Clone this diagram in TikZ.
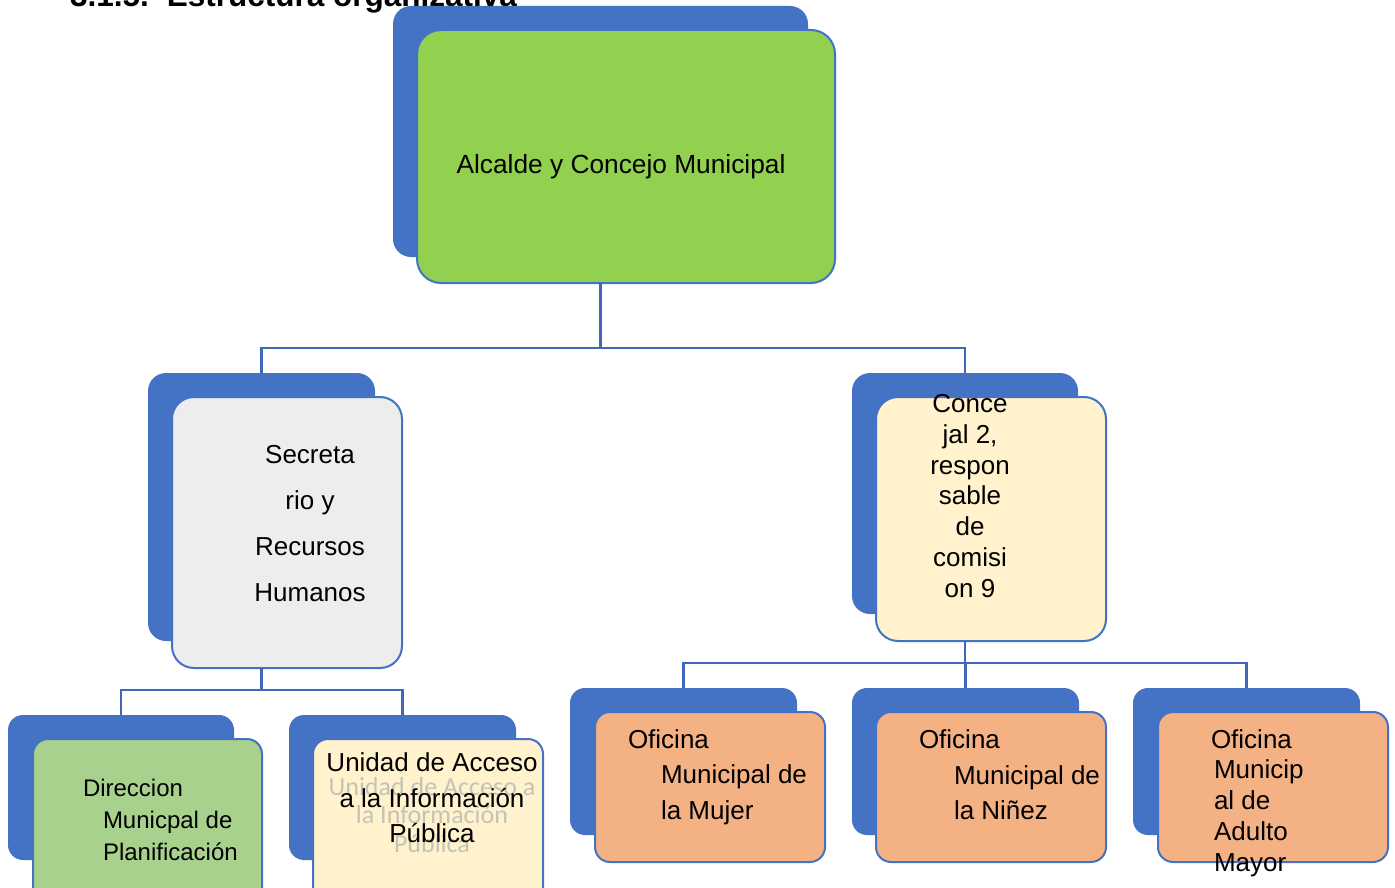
\documentclass[tikz,border=0pt]{standalone}
\usepackage{fontspec}
\setmainfont{Liberation Sans}
\newfontfamily\ghostfont{Carlito}
\definecolor{bblue}{HTML}{4472C4}
\definecolor{lblue}{HTML}{4068B8}
\definecolor{cgreen}{HTML}{92D050}
\definecolor{cgray}{HTML}{EDEDED}
\definecolor{ccream}{HTML}{FFF2CC}
\definecolor{clgreen}{HTML}{A9D18E}
\definecolor{corange}{HTML}{F4B183}
\begin{document}
\begin{tikzpicture}[x=1pt,y=-1pt,
  backbox/.style={fill=bblue, rounded corners=18pt, anchor=north west, inner sep=0pt, outer sep=0pt},
  frontbox/.style={draw=bblue, line width=2pt, rounded corners=18pt, anchor=north west, inner sep=0pt, outer sep=0pt},
  conn/.style={draw=lblue, line width=2.4pt},
  lbl/.style={inner sep=0pt, outer sep=0pt, text=black}]
\useasboundingbox (0,0) rectangle (1395,888);
\fill[white] (0,0) rectangle (1395,888);

% title
\node[lbl, anchor=base west, font=\fontsize{31.5}{31.5}\selectfont\bfseries] (title) at (70,7) {3.1.5.\hspace{18pt}Estructura organizativa};

% top
\node[backbox, minimum width=415pt, minimum height=251pt] (topB) at (393,6) {};
\node[frontbox, fill=cgreen, minimum width=418pt, minimum height=253pt, rounded corners=24pt] (topF) at (417,30) {};
\node[lbl, font=\fontsize{26.3}{30}\selectfont] (topT) at (621,167) {Alcalde y Concejo Municipal};

% secretario
\node[backbox, minimum width=227pt, minimum height=268pt] (secB) at (148,373) {};
\node[frontbox, fill=cgray, minimum width=230pt, minimum height=271pt, rounded corners=22pt] (secF) at (172,397) {};
\node[lbl, align=center, font=\fontsize{26}{46}\selectfont] (secT) at (310,524) {Secreta\\rio y\\Recursos\\Humanos};

% concejal
\node[backbox, minimum width=226pt, minimum height=241pt] (conB) at (852,373) {};
\node[frontbox, fill=ccream, minimum width=230pt, minimum height=244pt, rounded corners=22pt] (conF) at (876,397) {};
\node[lbl, align=center, font=\fontsize{26}{30.7}\selectfont] (conT) at (970,496) {Conce\\jal 2,\\respon\\sable\\de\\comisi\\on 9};

% direccion
\node[backbox, minimum width=226pt, minimum height=145pt, rounded corners=15pt] (dirB) at (8,715) {};
\node[frontbox, fill=clgreen, minimum width=229pt, minimum height=165pt, rounded corners=15pt] (dirF) at (33,739) {};
\node[lbl, anchor=west, align=left, font=\fontsize{24}{32}\selectfont] (dirT) at (83,820) {Direccion\\\hspace*{20pt}Municpal de\\\hspace*{20pt}Planificación};

% unidad
\node[backbox, minimum width=227pt, minimum height=145pt, rounded corners=15pt] (uniB) at (289,715) {};
\node[frontbox, fill=ccream, minimum width=230pt, minimum height=165pt, rounded corners=15pt] (uniF) at (313,739) {};
\node[lbl, align=center, text=black!30, opacity=0.75, font=\ghostfont\fontsize{26}{28.5}\selectfont] (uniG) at (432,815) {Unidad de Acceso a\\la Información\\Pública};
\node[lbl, align=center, font=\fontsize{26}{35.5}\selectfont] (uniT) at (432,798) {Unidad de Acceso\\a la Información\\Pública};

% oficinas
\node[backbox, minimum width=227pt, minimum height=147pt, rounded corners=15pt] (of1B) at (570,688) {};
\node[frontbox, fill=corange, minimum width=230pt, minimum height=150pt, rounded corners=15pt] (of1F) at (595,712) {};
\node[lbl, anchor=west, align=left, font=\fontsize{26}{35.5}\selectfont] (of1T) at (628,777) {Oficina\\\hspace*{33pt}Municipal de\\\hspace*{33pt}la Mujer};

\node[backbox, minimum width=227pt, minimum height=147pt, rounded corners=15pt] (of2B) at (852,688) {};
\node[frontbox, fill=corange, minimum width=230pt, minimum height=150pt, rounded corners=15pt] (of2F) at (876,712) {};
\node[lbl, anchor=west, align=left, font=\fontsize{26}{35.5}\selectfont] (of2T) at (919,775) {Oficina\\\hspace*{35pt}Municipal de\\\hspace*{35pt}la Niñez};

\node[backbox, minimum width=227pt, minimum height=147pt, rounded corners=15pt] (of3B) at (1133,688) {};
\node[frontbox, fill=corange, minimum width=230pt, minimum height=150pt, rounded corners=15pt] (of3F) at (1158,712) {};
\node[lbl, anchor=west, align=left, font=\fontsize{26}{30.75}\selectfont] (of3T) at (1211,803) {Oficina\\\hspace*{3pt}Municip\\\hspace*{3pt}al de\\\hspace*{3pt}Adulto\\\hspace*{3pt}Mayor};

% connectors
\draw[conn] (topB.south |- topF.south) -- ++(0,65) -| (secB.north);
\draw[conn] (topB.south |- topF.south) -- ++(0,65) -| (conB.north);
\draw[conn] (secB.south |- secF.south) -- ++(0,22) -| (dirB.north);
\draw[conn] (secB.south |- secF.south) -- ++(0,22) -| (uniB.north);
\draw[conn] (conB.south |- conF.south) -- ++(0,22) -| (of1B.north);
\draw[conn] (conB.south |- conF.south) -- ++(0,22) -| (of2B.north);
\draw[conn] (conB.south |- conF.south) -- ++(0,22) -| (of3B.north);
\end{tikzpicture}
\end{document}
